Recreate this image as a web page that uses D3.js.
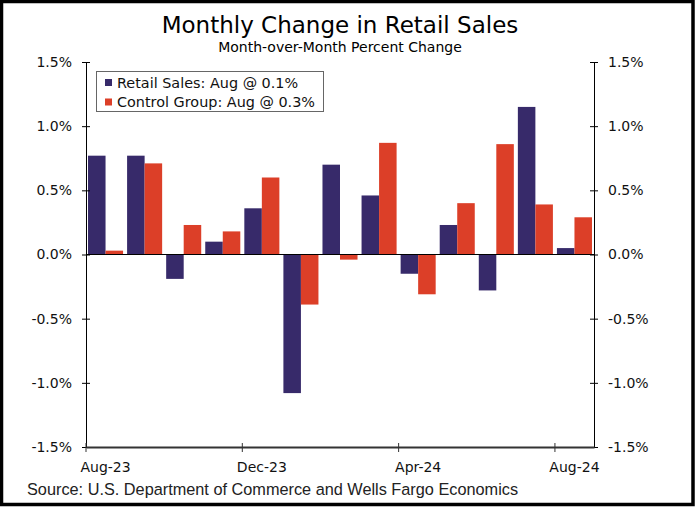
<!DOCTYPE html>
<html><head><meta charset="utf-8">
<script src="https://cdn.jsdelivr.net/npm/d3@7"></script>
<style>
html,body{margin:0;padding:0;background:#fff;}
svg{display:block;}
</style></head>
<body>
<svg id="chart" width="695" height="507"></svg>
<script>
const months = ["Aug-23","Sep-23","Oct-23","Nov-23","Dec-23","Jan-24","Feb-24","Mar-24","Apr-24","May-24","Jun-24","Jul-24","Aug-24"];
const retailSales = [0.77, 0.77, -0.19, 0.10, 0.36, -1.08, 0.70, 0.46, -0.15, 0.23, -0.28, 1.15, 0.05];
const controlGroup = [0.03, 0.71, 0.23, 0.18, 0.60, -0.39, -0.04, 0.87, -0.31, 0.40, 0.86, 0.39, 0.29];
const yTicks = [-1.5, -1.0, -0.5, 0.0, 0.5, 1.0, 1.5];
const xTickLabels = ["Aug-23","Dec-23","Apr-24","Aug-24"];
const seriesNames = ["Retail Sales: Aug @ 0.1%", "Control Group: Aug @ 0.3%"];
const colors = ["#372a6a", "#dc3f28"];

const svg = d3.select("#chart");
const W = 695, H = 507;
const mLeft = 86, mRight = 594, mTop = 62, mBottom = 447;

// frame
svg.append("rect").attr("x",1.5).attr("y",1.5).attr("width",W-3.5).attr("height",H-4).attr("fill","#fff").attr("stroke","#000").attr("stroke-width",3.5);

const x = d3.scaleBand().domain(months).range([mLeft, mRight]).paddingInner(0).paddingOuter(0);
const inner = d3.scaleBand().domain([0,1]).range([0, x.bandwidth()]).paddingOuter(0.115).paddingInner(0);
const y = d3.scaleLinear().domain([-1.5, 1.5]).range([mBottom, mTop]);

// bars
const series = [retailSales, controlGroup];
series.forEach((vals, si) => {
  svg.append("g").selectAll("rect").data(vals).join("rect")
    .attr("x", (d,i) => x(months[i]) + inner(si))
    .attr("width", inner.bandwidth())
    .attr("y", d => y(Math.max(0,d)))
    .attr("height", d => Math.abs(y(d) - y(0)))
    .attr("fill", colors[si]);
});

// zero line
svg.append("line").attr("x1",mLeft).attr("x2",mRight).attr("y1",y(0)).attr("y2",y(0)).attr("stroke","#000").attr("stroke-width",1);

const fmt = d => d.toFixed(1) + "%";
const gl = svg.append("g").attr("transform",`translate(${mLeft},0)`)
  .call(d3.axisLeft(y).tickValues(yTicks).tickFormat(fmt).tickSizeInner(4).tickSizeOuter(0).tickPadding(10));
const gr = svg.append("g").attr("transform",`translate(${mRight},0)`)
  .call(d3.axisRight(y).tickValues(yTicks).tickFormat(fmt).tickSizeInner(4).tickSizeOuter(0).tickPadding(10));
[gl, gr].forEach(g => {
  g.select(".domain").attr("stroke","#000");
  g.selectAll(".tick line").attr("stroke","#000").attr("x1", -4).attr("x2", 4);
  g.selectAll("text").attr("font-family","DejaVu Sans").attr("font-size",14).attr("fill","#111");
});
gl.selectAll("text").attr("x", -14);
gr.selectAll("text").attr("x", 14);

// x axis
const gx = svg.append("g").attr("transform",`translate(0,${mBottom})`)
  .call(d3.axisBottom(x).tickValues(xTickLabels).tickSizeInner(0).tickSizeOuter(0).tickPadding(0));
gx.select(".domain").attr("stroke","#333").attr("stroke-width",2);
gx.selectAll(".tick").attr("transform", d => `translate(${x(d)},0)`);
gx.selectAll(".tick line").attr("stroke","#333").attr("y1",-4).attr("y2",5);
gx.selectAll(".tick text").attr("x", x.bandwidth()/2).attr("y", 25).attr("dy", 0)
  .attr("font-family","DejaVu Sans").attr("font-size",14).attr("fill","#111");

// title
svg.append("text").attr("x",340).attr("y",33).attr("text-anchor","middle")
  .attr("font-family","DejaVu Sans").attr("font-size",23).attr("fill","#000").text("Monthly Change in Retail Sales");
svg.append("text").attr("x",340).attr("y",51.5).attr("text-anchor","middle")
  .attr("font-family","DejaVu Sans").attr("font-size",14).attr("fill","#000").text("Month-over-Month Percent Change");

// legend
const lg = svg.append("g");
lg.append("rect").attr("x",96.5).attr("y",71.5).attr("width",227).attr("height",40).attr("fill","#fff").attr("stroke","#666").attr("stroke-width",1);
seriesNames.forEach((name, i) => {
  const cy = 82.5 + i*19.5;
  lg.append("rect").attr("x",105).attr("y",cy-3.5).attr("width",7).attr("height",7).attr("fill",colors[i]);
  lg.append("text").attr("x",117).attr("y",cy+5).attr("font-family","DejaVu Sans").attr("font-size",14.4).attr("fill","#111").text(name);
});

// source
svg.append("text").attr("x",27).attr("y",495).attr("font-family","Liberation Sans, Arial").attr("font-size",16.3).attr("fill","#222")
  .text("Source: U.S. Department of Commerce and Wells Fargo Economics");
</script>
</body></html>
